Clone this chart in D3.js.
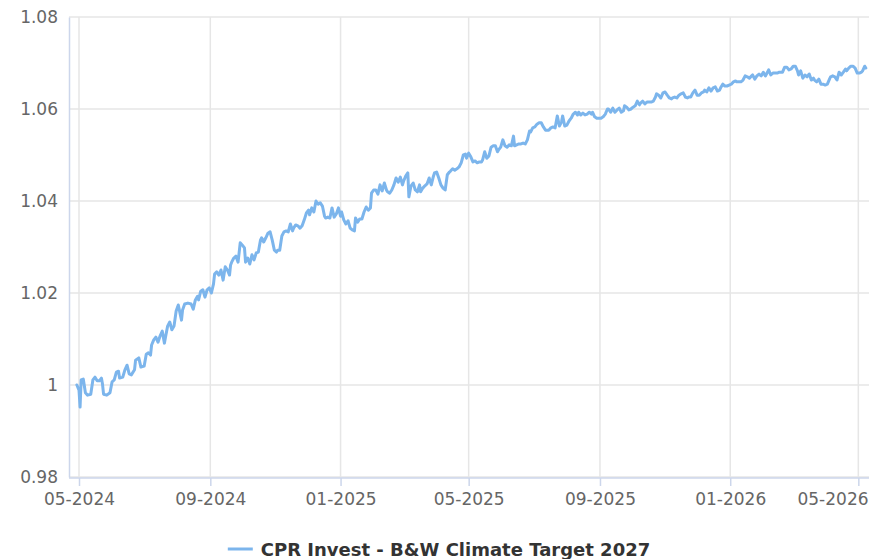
<!DOCTYPE html>
<html>
<head>
<meta charset="utf-8">
<script src="https://cdn.jsdelivr.net/npm/d3@7/dist/d3.min.js"></script>
<style>
  html, body { margin: 0; padding: 0; background: #ffffff; }
  svg { display: block; font-family: "DejaVu Sans", sans-serif; }
</style>
</head>
<body>
<svg id="chart" width="869" height="559"></svg>
<script>
// Fund net asset value history
const seriesName = "CPR Invest - B&W Climate Target 2027";

const navDates = [
  "2024-04-29","2024-05-01","2024-05-02","2024-05-03","2024-05-05","2024-05-07","2024-05-09","2024-05-12","2024-05-14","2024-05-16",
  "2024-05-18","2024-05-20","2024-05-22","2024-05-23","2024-05-24","2024-05-27","2024-05-30","2024-06-01","2024-06-03","2024-06-05",
  "2024-06-07","2024-06-08","2024-06-11","2024-06-13","2024-06-15","2024-06-17","2024-06-19","2024-06-22","2024-06-23","2024-06-26",
  "2024-06-28","2024-07-01","2024-07-03","2024-07-05","2024-07-07","2024-07-08","2024-07-10","2024-07-12","2024-07-14","2024-07-16",
  "2024-07-18","2024-07-20","2024-07-21","2024-07-23","2024-07-25","2024-07-27","2024-07-29","2024-07-31","2024-08-02","2024-08-04",
  "2024-08-05","2024-08-06","2024-08-08","2024-08-11","2024-08-14","2024-08-16","2024-08-18","2024-08-20","2024-08-21","2024-08-23",
  "2024-08-25","2024-08-27","2024-08-29","2024-08-31","2024-09-02","2024-09-04","2024-09-05","2024-09-07","2024-09-09","2024-09-11",
  "2024-09-13","2024-09-15","2024-09-17","2024-09-19","2024-09-20","2024-09-21","2024-09-23","2024-09-25","2024-09-27","2024-09-29",
  "2024-10-01","2024-10-03","2024-10-04","2024-10-06","2024-10-08","2024-10-10","2024-10-12","2024-10-14","2024-10-16","2024-10-18",
  "2024-10-19","2024-10-21","2024-10-23","2024-10-25","2024-10-27","2024-10-29","2024-10-31","2024-11-02","2024-11-03","2024-11-05",
  "2024-11-07","2024-11-09","2024-11-11","2024-11-13","2024-11-15","2024-11-17","2024-11-18","2024-11-20","2024-11-22","2024-11-24",
  "2024-11-26","2024-11-28","2024-11-30","2024-12-02","2024-12-03","2024-12-05","2024-12-07","2024-12-09","2024-12-11","2024-12-13",
  "2024-12-15","2024-12-17","2024-12-18","2024-12-20","2024-12-22","2024-12-24","2024-12-26","2024-12-28","2024-12-30","2025-01-01",
  "2025-01-02","2025-01-04","2025-01-06","2025-01-08","2025-01-10","2025-01-12","2025-01-14","2025-01-15","2025-01-17","2025-01-19",
  "2025-01-21","2025-01-23","2025-01-25","2025-01-27","2025-01-29","2025-01-30","2025-02-01","2025-02-03","2025-02-05","2025-02-07",
  "2025-02-09","2025-02-11","2025-02-13","2025-02-14","2025-02-16","2025-02-18","2025-02-20","2025-02-22","2025-02-24","2025-02-26",
  "2025-02-28","2025-03-01","2025-03-03","2025-03-05","2025-03-06","2025-03-08","2025-03-10","2025-03-12","2025-03-14","2025-03-16",
  "2025-03-17","2025-03-19","2025-03-21","2025-03-23","2025-03-25","2025-03-27","2025-03-29","2025-03-30","2025-04-01","2025-04-03",
  "2025-04-05","2025-04-07","2025-04-09","2025-04-11","2025-04-13","2025-04-14","2025-04-16","2025-04-18","2025-04-20","2025-04-22",
  "2025-04-24","2025-04-26","2025-04-28","2025-04-29","2025-05-01","2025-05-03","2025-05-05","2025-05-07","2025-05-09","2025-05-11",
  "2025-05-13","2025-05-14","2025-05-16","2025-05-18","2025-05-20","2025-05-22","2025-05-24","2025-05-26","2025-05-28","2025-05-29",
  "2025-05-31","2025-06-02","2025-06-04","2025-06-06","2025-06-08","2025-06-10","2025-06-12","2025-06-13","2025-06-15","2025-06-17",
  "2025-06-19","2025-06-21","2025-06-23","2025-06-25","2025-06-27","2025-06-28","2025-06-30","2025-07-02","2025-07-04","2025-07-06",
  "2025-07-08","2025-07-10","2025-07-12","2025-07-13","2025-07-15","2025-07-17","2025-07-19","2025-07-21","2025-07-23","2025-07-25",
  "2025-07-27","2025-07-28","2025-07-30","2025-08-01","2025-08-03","2025-08-05","2025-08-07","2025-08-09","2025-08-11","2025-08-12",
  "2025-08-14","2025-08-16","2025-08-18","2025-08-20","2025-08-22","2025-08-24","2025-08-25","2025-08-27","2025-08-29","2025-08-31",
  "2025-09-02","2025-09-04","2025-09-06","2025-09-08","2025-09-09","2025-09-11","2025-09-13","2025-09-15","2025-09-17","2025-09-19",
  "2025-09-21","2025-09-23","2025-09-24","2025-09-26","2025-09-28","2025-09-30","2025-10-02","2025-10-04","2025-10-06","2025-10-08",
  "2025-10-09","2025-10-11","2025-10-13","2025-10-15","2025-10-17","2025-10-19","2025-10-21","2025-10-23","2025-10-24","2025-10-26",
  "2025-10-28","2025-10-30","2025-11-01","2025-11-03","2025-11-05","2025-11-07","2025-11-08","2025-11-10","2025-11-12","2025-11-14",
  "2025-11-16","2025-11-18","2025-11-20","2025-11-22","2025-11-23","2025-11-25","2025-11-27","2025-11-29","2025-12-01","2025-12-03",
  "2025-12-05","2025-12-07","2025-12-08","2025-12-10","2025-12-12","2025-12-14","2025-12-16","2025-12-18","2025-12-20","2025-12-22",
  "2025-12-23","2025-12-25","2025-12-27","2025-12-29","2025-12-31","2026-01-02","2026-01-04","2026-01-06","2026-01-07","2026-01-09",
  "2026-01-11","2026-01-13","2026-01-15","2026-01-17","2026-01-19","2026-01-21","2026-01-22","2026-01-24","2026-01-26","2026-01-28",
  "2026-01-30","2026-02-01","2026-02-03","2026-02-04","2026-02-06","2026-02-08","2026-02-10","2026-02-12","2026-02-14","2026-02-16",
  "2026-02-18","2026-02-19","2026-02-21","2026-02-23","2026-02-25","2026-02-27","2026-03-01","2026-03-03","2026-03-05","2026-03-06",
  "2026-03-08","2026-03-10","2026-03-12","2026-03-14","2026-03-16","2026-03-18","2026-03-20","2026-03-21","2026-03-23","2026-03-25",
  "2026-03-27","2026-03-29","2026-03-31","2026-04-02","2026-04-04","2026-04-05","2026-04-07","2026-04-09","2026-04-11","2026-04-13",
  "2026-04-15","2026-04-17","2026-04-19","2026-04-20","2026-04-22","2026-04-24","2026-04-26","2026-04-28","2026-04-30","2026-05-02",
  "2026-05-04","2026-05-05","2026-05-07","2026-05-08"
];

const navValues = [
  1.0000,0.9989,0.9952,1.0011,1.0013,0.9983,0.9978,0.9980,1.0011,1.0017,
  1.0009,1.0009,1.0015,1.0002,0.9980,0.9978,0.9983,1.0007,1.0011,1.0028,
  1.0030,1.0015,1.0017,1.0033,1.0043,1.0024,1.0022,1.0033,1.0054,1.0059,
  1.0039,1.0041,1.0067,1.0070,1.0065,1.0087,1.0098,1.0104,1.0093,1.0107,
  1.0117,1.0091,1.0104,1.0128,1.0137,1.0120,1.0128,1.0161,1.0174,1.0152,
  1.0141,1.0163,1.0176,1.0178,1.0176,1.0165,1.0185,1.0193,1.0185,1.0204,
  1.0207,1.0191,1.0207,1.0211,1.0200,1.0220,1.0241,1.0246,1.0239,1.0250,
  1.0228,1.0257,1.0250,1.0239,1.0261,1.0267,1.0276,1.0280,1.0267,1.0309,
  1.0304,1.0298,1.0267,1.0276,1.0263,1.0283,1.0272,1.0287,1.0289,1.0315,
  1.0320,1.0311,1.0320,1.0330,1.0333,1.0315,1.0293,1.0289,1.0293,1.0293,
  1.0324,1.0333,1.0335,1.0333,1.0350,1.0335,1.0341,1.0348,1.0346,1.0341,
  1.0346,1.0359,1.0374,1.0380,1.0370,1.0385,1.0376,1.0400,1.0393,1.0396,
  1.0389,1.0367,1.0363,1.0365,1.0363,1.0385,1.0365,1.0372,1.0385,1.0367,
  1.0376,1.0359,1.0350,1.0357,1.0341,1.0337,1.0335,1.0363,1.0354,1.0361,
  1.0361,1.0376,1.0387,1.0380,1.0385,1.0417,1.0424,1.0424,1.0415,1.0435,
  1.0422,1.0439,1.0424,1.0420,1.0417,1.0424,1.0435,1.0450,1.0441,1.0452,
  1.0435,1.0443,1.0454,1.0461,1.0409,1.0433,1.0439,1.0424,1.0420,1.0435,
  1.0420,1.0428,1.0433,1.0437,1.0450,1.0435,1.0454,1.0461,1.0463,1.0450,
  1.0435,1.0428,1.0424,1.0457,1.0463,1.0465,1.0470,1.0467,1.0470,1.0474,
  1.0483,1.0500,1.0502,1.0493,1.0504,1.0496,1.0485,1.0487,1.0483,1.0485,
  1.0485,1.0489,1.0507,1.0493,1.0498,1.0517,1.0520,1.0520,1.0507,1.0511,
  1.0517,1.0533,1.0520,1.0517,1.0522,1.0520,1.0541,1.0520,1.0522,1.0524,
  1.0524,1.0526,1.0524,1.0533,1.0552,1.0550,1.0559,1.0561,1.0567,1.0570,
  1.0570,1.0561,1.0554,1.0554,1.0554,1.0559,1.0561,1.0559,1.0585,1.0563,
  1.0572,1.0585,1.0563,1.0565,1.0574,1.0580,1.0589,1.0593,1.0587,1.0593,
  1.0587,1.0591,1.0587,1.0589,1.0593,1.0589,1.0593,1.0583,1.0580,1.0580,
  1.0580,1.0583,1.0589,1.0600,1.0600,1.0593,1.0602,1.0593,1.0598,1.0602,
  1.0593,1.0596,1.0607,1.0604,1.0598,1.0600,1.0604,1.0607,1.0617,1.0609,
  1.0613,1.0617,1.0611,1.0615,1.0615,1.0615,1.0617,1.0626,1.0633,1.0630,
  1.0624,1.0635,1.0637,1.0630,1.0624,1.0622,1.0624,1.0626,1.0624,1.0630,
  1.0633,1.0635,1.0626,1.0624,1.0626,1.0626,1.0635,1.0641,1.0630,1.0630,
  1.0635,1.0637,1.0641,1.0637,1.0646,1.0639,1.0646,1.0648,1.0639,1.0641,
  1.0646,1.0654,1.0650,1.0650,1.0652,1.0654,1.0659,1.0661,1.0659,1.0659,
  1.0659,1.0663,1.0672,1.0670,1.0667,1.0672,1.0674,1.0665,1.0672,1.0676,
  1.0672,1.0680,1.0672,1.0676,1.0685,1.0674,1.0678,1.0678,1.0678,1.0680,
  1.0680,1.0680,1.0691,1.0691,1.0685,1.0687,1.0693,1.0693,1.0683,1.0674,
  1.0683,1.0667,1.0674,1.0670,1.0676,1.0663,1.0667,1.0663,1.0659,1.0665,
  1.0654,1.0654,1.0652,1.0654,1.0665,1.0670,1.0672,1.0670,1.0663,1.0680,
  1.0674,1.0680,1.0687,1.0683,1.0689,1.0693,1.0693,1.0689,1.0678,1.0678,
  1.0680,1.0683,1.0693,1.0689
];

const xTickDates = ["2024-05-01","2024-09-01","2025-01-01","2025-05-01","2025-09-01","2026-01-01","2026-05-01"];
const yTickValues = [0.98, 1, 1.02, 1.04, 1.06, 1.08];

const parse = d3.utcParse("%Y-%m-%d");
const data = navDates.map((d, i) => ({ date: parse(d), value: navValues[i] }));

const W = 869;
const svg = d3.select("#chart");
const plot = { left: 69, right: 869, top: 17, bottom: 477 };

const x = d3.scaleUtc()
  .domain([new Date(Date.UTC(2024, 3, 21, 15)), new Date(Date.UTC(2026, 4, 11))])
  .range([plot.left, plot.right]);

const y = d3.scaleLinear()
  .domain([0.98, 1.08])
  .range([plot.bottom, plot.top]);

const gridColor = "#e6e6e6";
const axisColor = "#ccd6eb";
const labelColor = "#666666";
const labelSize = "17px";

// Horizontal grid
svg.append("g")
  .selectAll("line")
  .data(yTickValues)
  .join("line")
  .attr("x1", plot.left).attr("x2", plot.right)
  .attr("y1", d => y(d)).attr("y2", d => y(d))
  .attr("stroke", gridColor).attr("stroke-width", 1.5);

// Vertical grid
svg.append("g")
  .selectAll("line")
  .data(xTickDates.map(parse))
  .join("line")
  .attr("x1", d => x(d)).attr("x2", d => x(d))
  .attr("y1", plot.top).attr("y2", plot.bottom)
  .attr("stroke", gridColor).attr("stroke-width", 1.5);

// Y axis
const yAxis = d3.axisLeft(y)
  .tickValues(yTickValues)
  .tickSize(0)
  .tickPadding(11)
  .tickFormat(d => d3.format("")(+d.toFixed(2)));
const gy = svg.append("g").attr("transform", `translate(${plot.left},0)`).call(yAxis);
gy.select(".domain").attr("stroke", axisColor).attr("stroke-width", 1.5);
gy.selectAll("text")
  .attr("fill", labelColor)
  .style("font-size", labelSize)
  .style("font-family", "DejaVu Sans, sans-serif");

// X axis
const xAxis = d3.axisBottom(x)
  .tickValues(xTickDates.map(parse))
  .tickSize(8)
  .tickPadding(7)
  .tickFormat(d3.utcFormat("%m-%Y"));
const gx = svg.append("g").attr("transform", `translate(0,${plot.bottom + 1})`).call(xAxis);
gx.select(".domain").attr("stroke", axisColor).attr("stroke-width", 1.5)
  .attr("d", `M${plot.left},0H${plot.right}`);
gx.selectAll(".tick line").attr("stroke", axisColor).attr("stroke-width", 1.5);
gx.selectAll("text")
  .attr("fill", labelColor)
  .style("font-size", labelSize)
  .style("font-family", "DejaVu Sans, sans-serif");

// Keep edge labels inside the drawing area
gx.selectAll(".tick").each(function (d) {
  const t = d3.select(this).select("text");
  const w = t.node().getComputedTextLength();
  const cx = x(d);
  if (cx + w / 2 > W - 1) t.attr("x", (W - 1) - w / 2 - cx);
});

// NAV line
const line = d3.line()
  .x(d => x(d.date))
  .y(d => y(d.value));

svg.append("path")
  .datum(data)
  .attr("fill", "none")
  .attr("stroke", "#7cb5ec")
  .attr("stroke-width", 3)
  .attr("stroke-linejoin", "round")
  .attr("stroke-linecap", "round")
  .attr("d", line);

// Legend
const legend = svg.append("g").attr("transform", "translate(439,549)");
const legendText = legend.append("text")
  .attr("x", 0).attr("y", 7)
  .attr("fill", "#333333")
  .style("font-size", "18px")
  .style("font-weight", "bold")
  .style("font-family", "DejaVu Sans, sans-serif")
  .text(seriesName);
const tw = legendText.node().getComputedTextLength();
const symW = 25, gap = 8;
const total = symW + gap + tw;
legendText.attr("x", -total / 2 + symW + gap);
legend.append("line")
  .attr("x1", -total / 2).attr("x2", -total / 2 + symW)
  .attr("y1", 0).attr("y2", 0)
  .attr("stroke", "#7cb5ec").attr("stroke-width", 3);
</script>
</body>
</html>
